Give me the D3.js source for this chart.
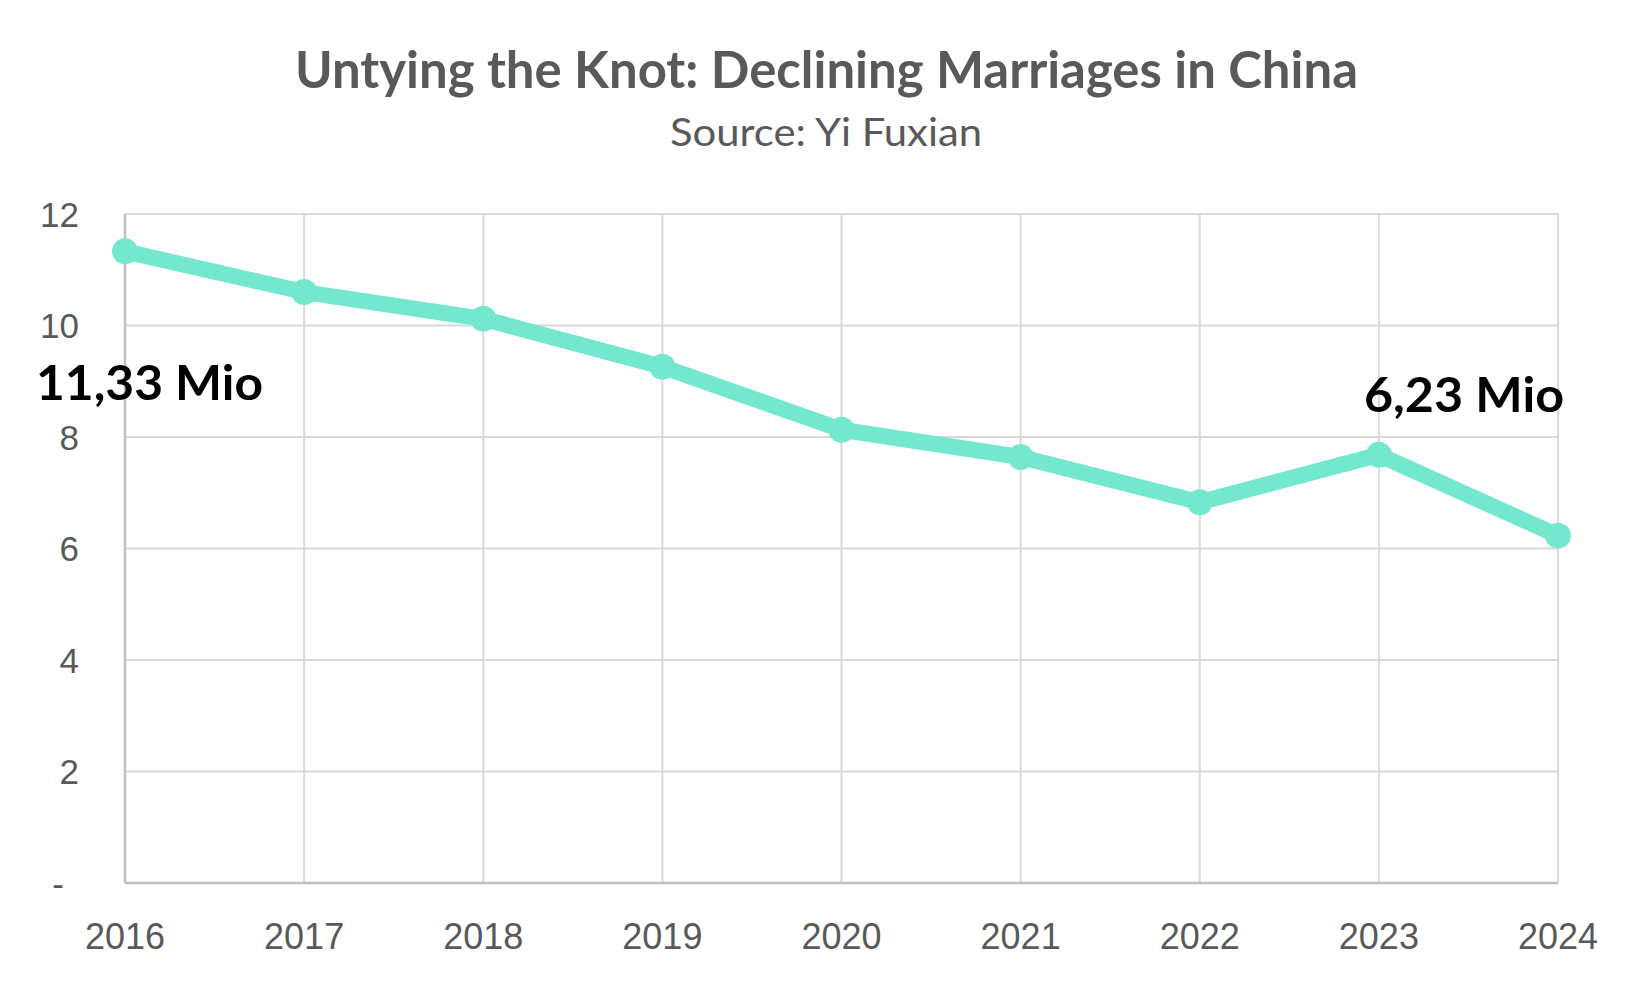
<!DOCTYPE html>
<html>
<head>
<meta charset="utf-8">
<script src="https://cdn.jsdelivr.net/npm/d3@7"></script>
<style>
  html, body { margin: 0; padding: 0; background: #ffffff; }
  svg { display: block; }
</style>
</head>
<body>
<svg id="chart" width="1650" height="990"></svg>
<script>
// ---- data ----
const years = ["2016", "2017", "2018", "2019", "2020", "2021", "2022", "2023", "2024"];
const marriages = [11.33, 10.6, 10.12, 9.26, 8.13, 7.64, 6.83, 7.68, 6.23];
const yTicks = [0, 2, 4, 6, 8, 10, 12];
const yTickLabels = ["-", "2", "4", "6", "8", "10", "12"];
const titleText = "Untying the Knot: Declining Marriages in China";
const subtitleText = "Source: Yi Fuxian";
const annotated = ["2016", "2024"];

// ---- layout ----
const svg = d3.select("#chart");
const plotL = 125, plotR = 1558, plotT = 214, plotB = 883;

const x = d3.scalePoint().domain(years).range([plotL, plotR]);
const y = d3.scaleLinear().domain([0, 12]).range([plotB, plotT]);

const grey = "#595959";

// title
svg.append("text")
  .attr("x", 826.5).attr("y", 88)
  .attr("text-anchor", "middle")
  .attr("font-family", "Lato, 'Open Sans', sans-serif")
  .attr("font-weight", "bold")
  .attr("font-size", 52)
  .attr("fill", grey)
  .attr("textLength", 1063).attr("lengthAdjust", "spacingAndGlyphs")
  .text(titleText);

svg.append("text")
  .attr("x", 826).attr("y", 146)
  .attr("text-anchor", "middle")
  .attr("font-family", "Lato, 'Open Sans', sans-serif")
  .attr("font-size", 39)
  .attr("fill", grey)
  .attr("textLength", 312).attr("lengthAdjust", "spacingAndGlyphs")
  .text(subtitleText);

// horizontal gridlines
svg.append("g").selectAll("line")
  .data(yTicks.filter(t => t > 0))
  .join("line")
  .attr("x1", plotL).attr("x2", plotR)
  .attr("y1", d => y(d)).attr("y2", d => y(d))
  .attr("stroke", "#D9D9D9").attr("stroke-width", 2);

// vertical gridlines
svg.append("g").selectAll("line")
  .data(years.slice(1))
  .join("line")
  .attr("x1", d => x(d)).attr("x2", d => x(d))
  .attr("y1", plotT).attr("y2", plotB)
  .attr("stroke", "#D9D9D9").attr("stroke-width", 2);

// axis lines
svg.append("line")
  .attr("x1", plotL).attr("x2", plotL).attr("y1", plotT).attr("y2", plotB)
  .attr("stroke", "#BFBFBF").attr("stroke-width", 2.5);
svg.append("line")
  .attr("x1", plotL).attr("x2", plotR).attr("y1", plotB).attr("y2", plotB)
  .attr("stroke", "#BFBFBF").attr("stroke-width", 2.5);

// y tick labels
svg.append("g").selectAll("text")
  .data(yTicks)
  .join("text")
  .attr("x", (d, i) => yTickLabels[i] === "-" ? 64 : 79)
  .attr("y", d => y(d))
  .attr("dy", "0.36em")
  .attr("text-anchor", "end")
  .attr("font-family", "'Liberation Sans', Arial, sans-serif")
  .attr("font-size", 35)
  .attr("fill", grey)
  .text((d, i) => yTickLabels[i]);

// x tick labels
svg.append("g").selectAll("text")
  .data(years)
  .join("text")
  .attr("x", d => x(d))
  .attr("y", 949)
  .attr("text-anchor", "middle")
  .attr("font-family", "'Liberation Sans', Arial, sans-serif")
  .attr("font-size", 36)
  .attr("fill", grey)
  .text(d => d);

// line
const pts = years.map((yr, i) => ({ yr, v: marriages[i] }));
const lineColor = "#74E7CF";
svg.append("path")
  .datum(pts)
  .attr("d", d3.line().x(d => x(d.yr)).y(d => y(d.v)))
  .attr("fill", "none")
  .attr("stroke", lineColor)
  .attr("stroke-width", 16)
  .attr("stroke-linejoin", "round");

svg.append("g").selectAll("circle")
  .data(pts)
  .join("circle")
  .attr("cx", d => x(d.yr)).attr("cy", d => y(d.v))
  .attr("r", 13)
  .attr("fill", lineColor);

// annotations
const fmt = v => d3.format(".2f")(v).replace(".", ",") + " Mio";
const annoPos = {
  "2016": { dx: -89, dy: 149, w: 227 },
  "2024": { dx: -194, dy: -124, w: 200 }
};
svg.append("g").selectAll("text")
  .data(pts.filter(d => annotated.includes(d.yr)))
  .join("text")
  .attr("x", d => x(d.yr) + annoPos[d.yr].dx)
  .attr("y", d => y(d.v) + annoPos[d.yr].dy)
  .attr("font-family", "Lato, 'Open Sans', sans-serif")
  .attr("font-weight", "bold")
  .attr("font-size", 48)
  .attr("fill", "#000000")
  .attr("textLength", d => annoPos[d.yr].w)
  .attr("lengthAdjust", "spacingAndGlyphs")
  .text(d => fmt(d.v));
</script>
</body>
</html>
